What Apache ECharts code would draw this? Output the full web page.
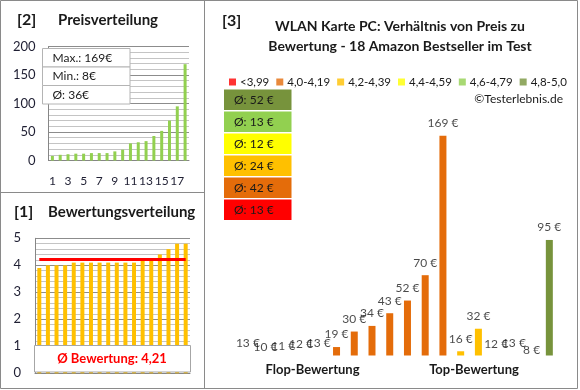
<!DOCTYPE html>
<html><head><meta charset="utf-8">
<script src="https://cdn.jsdelivr.net/npm/echarts@6/dist/echarts.min.js"></script>
<style>html,body{margin:0;padding:0;background:#fff}#c{width:580px;height:390px}</style>
</head><body><div id="c"></div>
<script>
// ---- data ----
const categories = ['1','2','3','4','5','6','7','8','9','10','11','12','13','14','15','16','17','18'];
const sortedPrices = [8,10,11,12,12,13,13,13,16,19,30,32,34,43,52,70,95,169];
const ratings = [3.9,4.0,4.0,4.0,4.1,4.1,4.1,4.1,4.1,4.1,4.1,4.1,4.2,4.2,4.4,4.6,4.8,4.8];
const avgRating = 4.21;
const testPrices = [13,10,11,12,13,19,30,34,43,52,70,169,16,32,12,13,8,95];
const classLabels = ['<3,99','4,0-4,19','4,2-4,39','4,4-4,59','4,6-4,79','4,8-5,0'];
const classLimits = [4.0,4.2,4.4,4.6,4.8];
const classAverages = [13,42,24,12,13,52]; // red .. olive
const classColors = ['#FF0000','#E46C0A','#FFC000','#FFFF00','#92D050','#77933C'];

// ---- helpers ----
const FONT = 'Lato, "Noto Sans", sans-serif';
const TXT = '#1a1a1a';
function classOf(r){ let c=0; while(c<classLimits.length && r>=classLimits[c]-1e-9) c++; return c; }
const maxP = Math.max(...sortedPrices), minP = Math.min(...sortedPrices);
const avgP = Math.round(sortedPrices.reduce((a,b)=>a+b,0)/sortedPrices.length);

const chart = echarts.init(document.getElementById('c'), null, {renderer:'canvas'});

const g = [];
function txt(t, x, y, size, opts){
  opts = opts||{};
  g.push({type:'text', z:100, style:{text:t, x:x, y:y, font:(opts.bold?'bold ':'')+size+'px '+FONT,
    fill:opts.fill||TXT, align:opts.align||'left', verticalAlign:'middle'}});
}
function rect(x,y,w,h,fill,stroke){
  g.push({type:'rect', z:90, shape:{x:x,y:y,width:w,height:h}, style:{fill:fill||'none', stroke:stroke||null, lineWidth:1}});
}
function line(x1,y1,x2,y2,c){
  g.push({type:'line', z:95, shape:{x1:x1,y1:y1,x2:x2,y2:y2}, style:{stroke:c||'#8a8a8a', lineWidth:1}});
}
// panel frames
rect(0.5,0.5,577,388,'none','#8a8a8a');
line(204.5,0.5,204.5,388.5);
line(0.5,192.5,204.5,192.5);
// titles
txt('[2]',17,20,16,{bold:true});
txt('Preisverteilung',58,20,15,{bold:true});
txt('[1]',14,212,16,{bold:true});
txt('Bewertungsverteilung',48,212,15,{bold:true});
txt('[3]',222,21,16,{bold:true});
txt('WLAN Karte PC: Verhältnis von Preis zu',400,26,14,{bold:true,align:'center'});
txt('Bewertung - 18 Amazon Bestseller im Test',400,46,14,{bold:true,align:'center'});
// info box (price)
const infoRows = ['Max.: '+maxP+'€','Min.: '+minP+'€','Ø: '+avgP+'€'];
infoRows.forEach((t,i)=>{ rect(42.5,48.5+i*18.5,87.5,18.5,'#fff','#b4b4b4'); txt(t,52.5,58+i*18.5,12); });
// rating box
rect(34.5,345.5,156,26.5,'#fff','#a6a6a6');
txt('Ø Bewertung: '+avgRating.toFixed(2).replace('.',','),112,358.5,13,{bold:true,fill:'#FF0000',align:'center'});
// class average boxes (best on top)
for(let k=0;k<6;k++){
  const ci = 5-k;
  rect(224,89.5+k*22,67.5,20.5,classColors[ci],null);
  txt('Ø: '+classAverages[ci]+' €',234,100+k*22,12);
}
txt('©Testerlebnis.de',563,99,12,{align:'right'});
txt('Flop-Bewertung',312.5,370,13,{bold:true,align:'center'});
txt('Top-Bewertung',474,370,13,{bold:true,align:'center'});

const axisGray = '#868686';
const option = {
  animation:false,
  textStyle:{fontFamily:FONT},
  legend:{left:224, top:71, width:420, itemWidth:7, itemHeight:7, itemGap:7, icon:'rect', selectedMode:false,
    textStyle:{fontSize:11.5, color:TXT, fontFamily:FONT, padding:[0,0,0,-1]}, data:classLabels},
  grid:[
    {left:48.5, top:46.5, width:140.5, height:114},
    {left:35, top:238.3, width:155, height:135},
    {left:239, top:135.7, width:319.2, height:219.8}
  ],
  xAxis:[
    {type:'category', gridIndex:0, data:categories, axisTick:{show:false},
      axisLine:{lineStyle:{color:axisGray}}, axisLabel:{interval:1, margin:15, fontSize:12, color:'#1f1f33', fontFamily:FONT}},
    {type:'category', gridIndex:1, data:categories, axisTick:{show:false},
      axisLine:{lineStyle:{color:axisGray}}, axisLabel:{show:false}},
    {type:'category', gridIndex:2, data:categories, show:false}
  ],
  yAxis:[
    {type:'value', gridIndex:0, min:0, max:200, interval:50,
      axisLine:{show:true, lineStyle:{color:axisGray}}, axisTick:{show:false},
      axisLabel:{fontSize:13, color:'#1f1f33', margin:13, fontFamily:FONT},
      splitLine:{lineStyle:{color:'#8c8c8c'}},
      minorTick:{show:false, splitNumber:5}, minorSplitLine:{show:true, lineStyle:{color:'#c4c4c4'}}},
    {type:'value', gridIndex:1, min:0, max:5, interval:1,
      axisLine:{show:true, lineStyle:{color:axisGray}}, axisTick:{show:false},
      axisLabel:{fontSize:13, color:'#1f1f33', margin:14, fontFamily:FONT},
      splitLine:{lineStyle:{color:'#8c8c8c'}},
      minorTick:{show:false, splitNumber:5}, minorSplitLine:{show:true, lineStyle:{color:'#c4c4c4'}}},
    {type:'value', gridIndex:2, min:13, max:169, show:false, splitLine:{show:false}}
  ],
  series:[
    {type:'bar', xAxisIndex:0, yAxisIndex:0, data:sortedPrices, barWidth:3, itemStyle:{color:'#92D050'}},
    {type:'bar', xAxisIndex:1, yAxisIndex:1, data:ratings, barWidth:4, itemStyle:{color:'#FFC000'},
      markLine:{silent:true, symbol:'none', label:{show:false}, lineStyle:{color:'#FF0000', width:3, type:'solid'},
        data:[[{xAxis:0, yAxis:avgRating},{xAxis:17, yAxis:avgRating}]]}},
    {type:'bar', xAxisIndex:2, yAxisIndex:2, barWidth:7,
      data:testPrices.map((v,i)=>({value:v, itemStyle:{color:classColors[classOf(ratings[i])]}}))},
    {type:'scatter', xAxisIndex:2, yAxisIndex:2, clip:false, symbolSize:1, itemStyle:{color:'rgba(0,0,0,0)'},
      data:testPrices, z:5,
      label:{show:true, position:'top', distance:6, formatter:'{c} €', fontSize:12, color:TXT, fontFamily:FONT}}
  ].concat(classLabels.map((n,i)=>({type:'scatter', name:n, xAxisIndex:2, yAxisIndex:2, data:[], itemStyle:{color:classColors[i]}}))),
  graphic:g
};
chart.setOption(option);
</script></body></html>
